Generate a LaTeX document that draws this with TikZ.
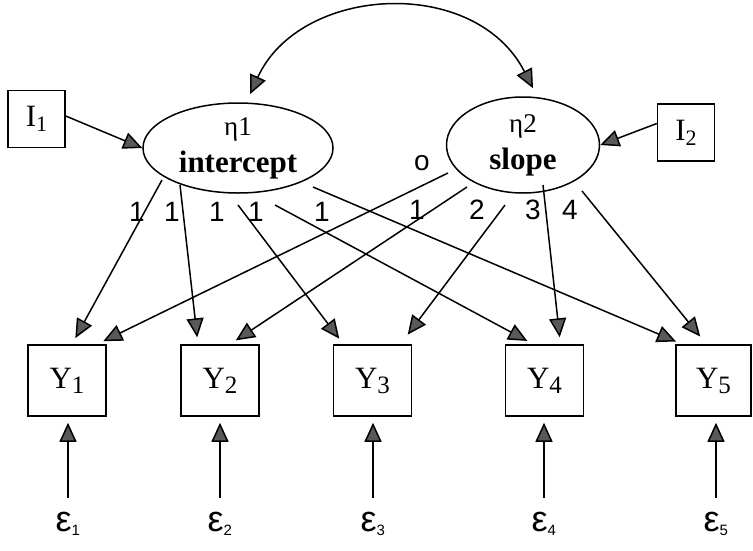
\documentclass[tikz,border=0pt]{standalone}
\usepackage{fontspec}
\setmainfont{Liberation Serif}
\newfontfamily\labelfont{Liberation Sans}
\usetikzlibrary{arrows.meta,calc,shapes.geometric}
% lowered index digit used in the observed-variable boxes
\newcommand{\lowidx}[2]{\raisebox{-5pt}{\fontsize{#1}{#1}\selectfont #2}}

\begin{document}
\begin{tikzpicture}[x=1pt,y=-1pt,
  line width=1.5pt,
  tip/.tip={Triangle[length=19pt,width=17pt,fill=black!65]},
  obs/.style={draw,rectangle,minimum width=78pt,minimum height=71pt,inner sep=0pt,
              font=\fontsize{31}{31}\selectfont},
  inst/.style={draw,rectangle,minimum width=57pt,minimum height=57pt,inner sep=0pt,
              font=\fontsize{31}{31}\selectfont},
  latent/.style={draw,ellipse,inner sep=0pt,align=center,
              font=\fontsize{31}{34}\selectfont},
  err/.style={inner sep=2pt,font=\labelfont\fontsize{36}{36}\selectfont},
  wt/.style={inner sep=0pt,font=\labelfont\fontsize{28}{28}\selectfont},
  load/.style={-{tip},shorten >=7pt},
  errarrow/.style={-{tip},shorten >=6pt,shorten <=12pt}]
\useasboundingbox (0,0) rectangle (753,550);

% exogenous indicators
\node[inst] (i1) at (36.5,119) {I\lowidx{22}{1}};
\node[inst] (i2) at (686,132.5) {I\lowidx{22}{2}};

% latent growth factors
\node[latent,minimum width=190pt,minimum height=90pt] (e1) at (238,148)
  {{\fontsize{27}{27}\selectfont η1}\\[3pt]\textbf{intercept}};
\node[latent,minimum width=153pt,minimum height=96pt] (e2) at (523,145)
  {{\fontsize{27}{27}\selectfont η2}\\[3pt]\textbf{slope}};

% observed repeated measures
\node[obs] (y1) at (67,380.5) {Y\lowidx{25}{1}};
\node[obs] (y2) at (220,380.5) {Y\lowidx{25}{2}};
\node[obs] (y3) at (372.5,380.5) {Y\lowidx{25}{3}};
\node[obs] (y4) at (544.5,380.5) {Y\lowidx{25}{4}};
\node[obs,minimum width=75pt] (y5) at (713.5,380.5) {Y\lowidx{25}{5}};

% measurement errors
\node[err] (d1) at (68,524) {ε\textsubscript{\fontsize{15}{15}\selectfont 1}};
\node[err] (d2) at (220,524) {ε\textsubscript{\fontsize{15}{15}\selectfont 2}};
\node[err] (d3) at (373,524) {ε\textsubscript{\fontsize{15}{15}\selectfont 3}};
\node[err] (d4) at (544,524) {ε\textsubscript{\fontsize{15}{15}\selectfont 4}};
\node[err] (d5) at (716,524) {ε\textsubscript{\fontsize{15}{15}\selectfont 5}};

% covariance between intercept and slope
\coordinate (c1) at ($(e1.north)+(12,-8)$);
\coordinate (c2) at ($(e2.north)+(10,-8)$);
\draw[{tip}-{tip}] (c1) .. controls (300,-15) and (475,-25) .. (c2);

% covariate effects
\draw[-{tip}] (i1.east) ++(0,-3) coordinate (i1o) (i1o) -- (e1.west);
\draw[-{tip}] (i2.west) ++(0,-9) coordinate (i2o) (i2o) -- (e2.east);

% intercept loadings
\coordinate (a1) at ($(e1.center)+(-76,32)$);
\coordinate (a2) at ($(e1.center)+(-58,37)$);
\coordinate (a3) at ($(e1.center)+(0,57)$);
\coordinate (a4) at ($(e1.center)+(37,57)$);
\coordinate (a5) at ($(e1.center)+(75,39)$);
\draw[load] (a1) -- ([xshift=5pt]y1.north);
\draw[load] (a2) -- ([xshift=-22pt]y2.north);
\draw[load] (a3) -- ([xshift=-29pt]y3.north);
\draw[load] (a4) -- ([xshift=-11pt]y4.north);
\draw[load] (a5) -- ([xshift=-31pt]y5.north);

% slope loadings
\coordinate (b1) at ($(e2.center)+(-75,28)$);
\coordinate (b2) at ($(e2.center)+(-56,42)$);
\coordinate (b3) at ($(e2.center)+(-18,60)$);
\coordinate (b4) at ($(e2.center)+(20,40)$);
\coordinate (b5) at ($(e2.center)+(59,46)$);
\draw[load] (b1) -- ([xshift=30pt]y1.north);
\draw[load] (b2) -- ([xshift=10pt]y2.north);
\draw[load,shorten >=12pt] (b3) -- ([xshift=28pt]y3.north);
\draw[load] (b4) -- ([xshift=16pt]y4.north);
\draw[load,shorten >=10pt] (b5) -- ([xshift=-7pt]y5.north);

% loading values
\node[wt] (w11) at (137,212) {1};
\node[wt] (w12) at (172,212) {1};
\node[wt] (w13) at (217,212) {1};
\node[wt] (w14) at (256,212) {1};
\node[wt] (w15) at (322,212) {1};
\node[wt] (w21) at (422,163) {o};
\node[wt] (w22) at (417,210) {1};
\node[wt] (w23) at (477,210) {2};
\node[wt] (w24) at (533,210) {3};
\node[wt] (w25) at (570,210) {4};

% error paths
\foreach \k in {1,...,5}
  \draw[errarrow] (d\k.north) -- (d\k.north |- y\k.south);
\end{tikzpicture}
\end{document}
